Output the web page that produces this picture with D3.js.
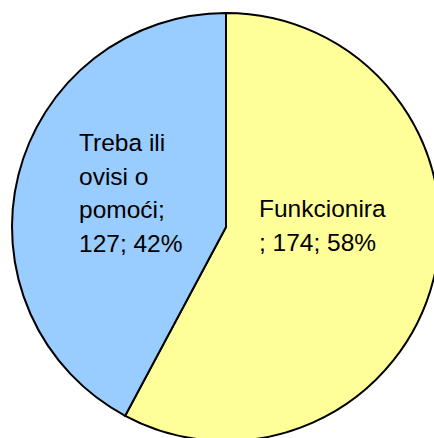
<!DOCTYPE html>
<html>
<head>
<meta charset="utf-8">
<script src="https://d3js.org/d3.v7.min.js"></script>
<style>
  body { margin: 0; background: #fff; }
  text { font-family: "Liberation Sans", Arial, sans-serif; fill: #000; }
</style>
</head>
<body>
<svg id="chart" width="434" height="438"></svg>
<script>
  // data
  var categories = ["Funkcionira", "Treba ili ovisi o pomoći"];
  var values = [174, 127];
  var colors = ["#FFFF99", "#99CCFF"];
  // label lines per slice (as wrapped in the original)
  var labelLines = [
    ["Funkcionira", "; 174; 58%"],
    ["Treba ili", "ovisi o", "pomoći;", "127; 42%"]
  ];
  var labelPos = [[259, 217], [79, 151]];

  var cx = 226, cy = 227, radius = 214;

  var svg = d3.select("#chart");
  var g = svg.append("g")
    .attr("transform", "translate(" + cx + "," + cy + ")");

  var pie = d3.pie().sort(null).value(function(d) { return d; });
  var arc = d3.arc().innerRadius(0).outerRadius(radius);

  g.selectAll("path.slice")
    .data(pie(values))
    .enter()
    .append("path")
      .attr("class", "slice")
      .attr("d", arc)
      .attr("fill", function(d, i) { return colors[i]; })
      .attr("stroke", "#000")
      .attr("stroke-width", 2)
      .attr("stroke-linejoin", "miter");

  labelLines.forEach(function(lines, i) {
    var t = svg.append("text")
      .attr("x", labelPos[i][0])
      .attr("y", labelPos[i][1])
      .style("font-size", "24.5px");
    lines.forEach(function(line, j) {
      t.append("tspan")
        .attr("x", labelPos[i][0])
        .attr("dy", j === 0 ? 0 : 33.5)
        .text(line);
    });
  });
</script>
</body>
</html>
